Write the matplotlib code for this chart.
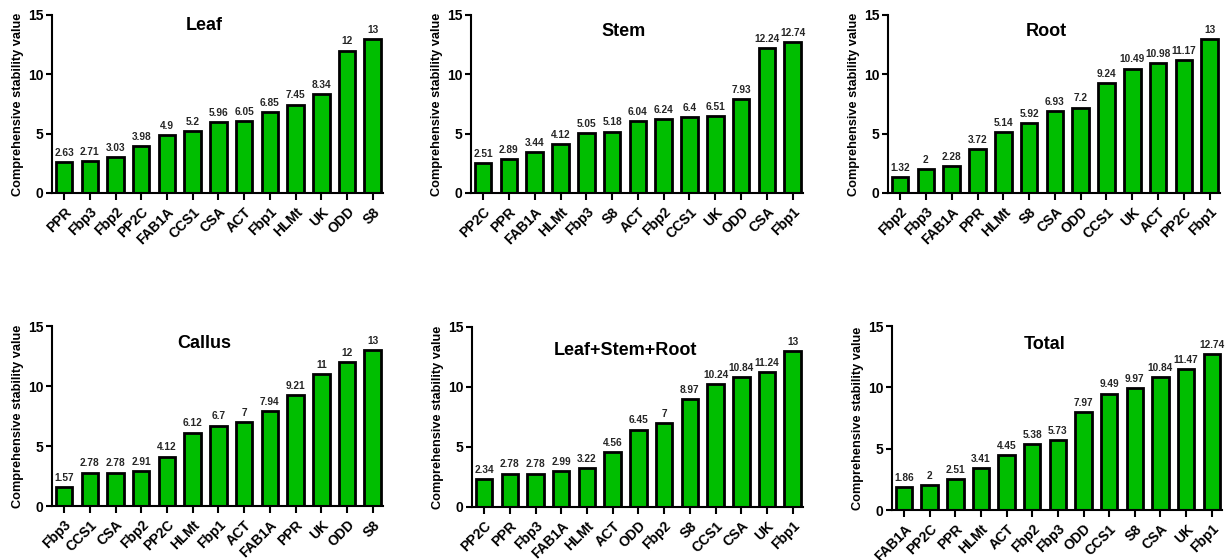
import matplotlib
matplotlib.use("Agg")
import matplotlib.pyplot as plt

plt.rcParams['font.family'] = ['Liberation Sans', 'DejaVu Sans']
plt.rcParams['font.weight'] = 'bold'

# Data for each tissue panel (genes sorted by stability value)
leaf_genes = ["PPR", "Fbp3", "Fbp2", "PP2C", "FAB1A", "CCS1", "CSA", "ACT", "Fbp1", "HLMt", "UK", "ODD", "S8"]
leaf_vals = [2.63, 2.71, 3.03, 3.98, 4.9, 5.2, 5.96, 6.05, 6.85, 7.45, 8.34, 12, 13]

stem_genes = ["PP2C", "PPR", "FAB1A", "HLMt", "Fbp3", "S8", "ACT", "Fbp2", "CCS1", "UK", "ODD", "CSA", "Fbp1"]
stem_vals = [2.51, 2.89, 3.44, 4.12, 5.05, 5.18, 6.04, 6.24, 6.4, 6.51, 7.93, 12.24, 12.74]

root_genes = ["Fbp2", "Fbp3", "FAB1A", "PPR", "HLMt", "S8", "CSA", "ODD", "CCS1", "UK", "ACT", "PP2C", "Fbp1"]
root_vals = [1.32, 2, 2.28, 3.72, 5.14, 5.92, 6.93, 7.2, 9.24, 10.49, 10.98, 11.17, 13]

callus_genes = ["Fbp3", "CCS1", "CSA", "Fbp2", "PP2C", "HLMt", "Fbp1", "ACT", "FAB1A", "PPR", "UK", "ODD", "S8"]
callus_vals = [1.57, 2.78, 2.78, 2.91, 4.12, 6.12, 6.7, 7, 7.94, 9.21, 11, 12, 13]

lsr_genes = ["PP2C", "PPR", "Fbp3", "FAB1A", "HLMt", "ACT", "ODD", "Fbp2", "S8", "CCS1", "CSA", "UK", "Fbp1"]
lsr_vals = [2.34, 2.78, 2.78, 2.99, 3.22, 4.56, 6.45, 7, 8.97, 10.24, 10.84, 11.24, 13]

total_genes = ["FAB1A", "PP2C", "PPR", "HLMt", "ACT", "Fbp2", "Fbp3", "ODD", "CCS1", "S8", "CSA", "UK", "Fbp1"]
total_vals = [1.86, 2, 2.51, 3.41, 4.45, 5.38, 5.73, 7.97, 9.49, 9.97, 10.84, 11.47, 12.74]

panels = [
    ("Leaf", leaf_genes, leaf_vals, [52, 15, 383, 193], (0.46, 0.94)),
    ("Stem", stem_genes, stem_vals, [471, 15, 803, 193], (0.46, 0.91)),
    ("Root", root_genes, root_vals, [888, 15, 1220, 193], (0.476, 0.91)),
    ("Callus", callus_genes, callus_vals, [52, 326, 383, 506], (0.46, 0.90)),
    ("Leaf+Stem+Root", lsr_genes, lsr_vals, [472, 327, 803, 507], (0.465, 0.867)),
    ("Total", total_genes, total_vals, [892, 326, 1222, 510], (0.464, 0.90)),
]

W, H = 1227, 560
fig = plt.figure(figsize=(W / 100, H / 100), dpi=100)

for title, genes, vals, box, tpos in panels:
    x0, y0, x1, y1 = box
    ax = fig.add_axes([x0 / W, 1 - y1 / H, (x1 - x0) / W, (y1 - y0) / H])
    xs = list(range(len(genes)))
    ax.bar(xs, vals, width=0.64, color="#00BE00", edgecolor="black", linewidth=2.0, zorder=2)

    for x, v in zip(xs, vals):
        ax.annotate(f"{v:g}", (x, v), xytext=(0, 3), textcoords="offset points",
                    ha="center", va="bottom", fontsize=7.3, fontweight="bold", color="#262626")

    ax.set_xlim(-0.47, len(genes) - 0.6)
    ax.set_ylim(0, 15)
    ax.set_yticks([0, 5, 10, 15])
    ax.set_xticks(xs)
    ax.set_xticklabels(genes, rotation=45, ha="right", rotation_mode="anchor",
                       fontsize=10, fontweight="bold")
    ax.tick_params(axis="y", labelsize=10, width=1.5, length=4, pad=2)
    ax.tick_params(axis="x", width=1.5, length=5)
    for lbl in ax.get_yticklabels():
        lbl.set_fontweight("bold")

    ax.spines["top"].set_visible(False)
    ax.spines["right"].set_visible(False)
    ax.spines["left"].set_linewidth(1.5)
    ax.spines["bottom"].set_linewidth(1.5)

    ax.set_ylabel("Comprehensive stability value", fontsize=9.2, fontweight="bold", labelpad=3)
    ax.text(tpos[0], tpos[1], title, transform=ax.transAxes, ha="center", va="center",
            fontsize=13, fontweight="bold")

plt.savefig("out.png", dpi=100)
